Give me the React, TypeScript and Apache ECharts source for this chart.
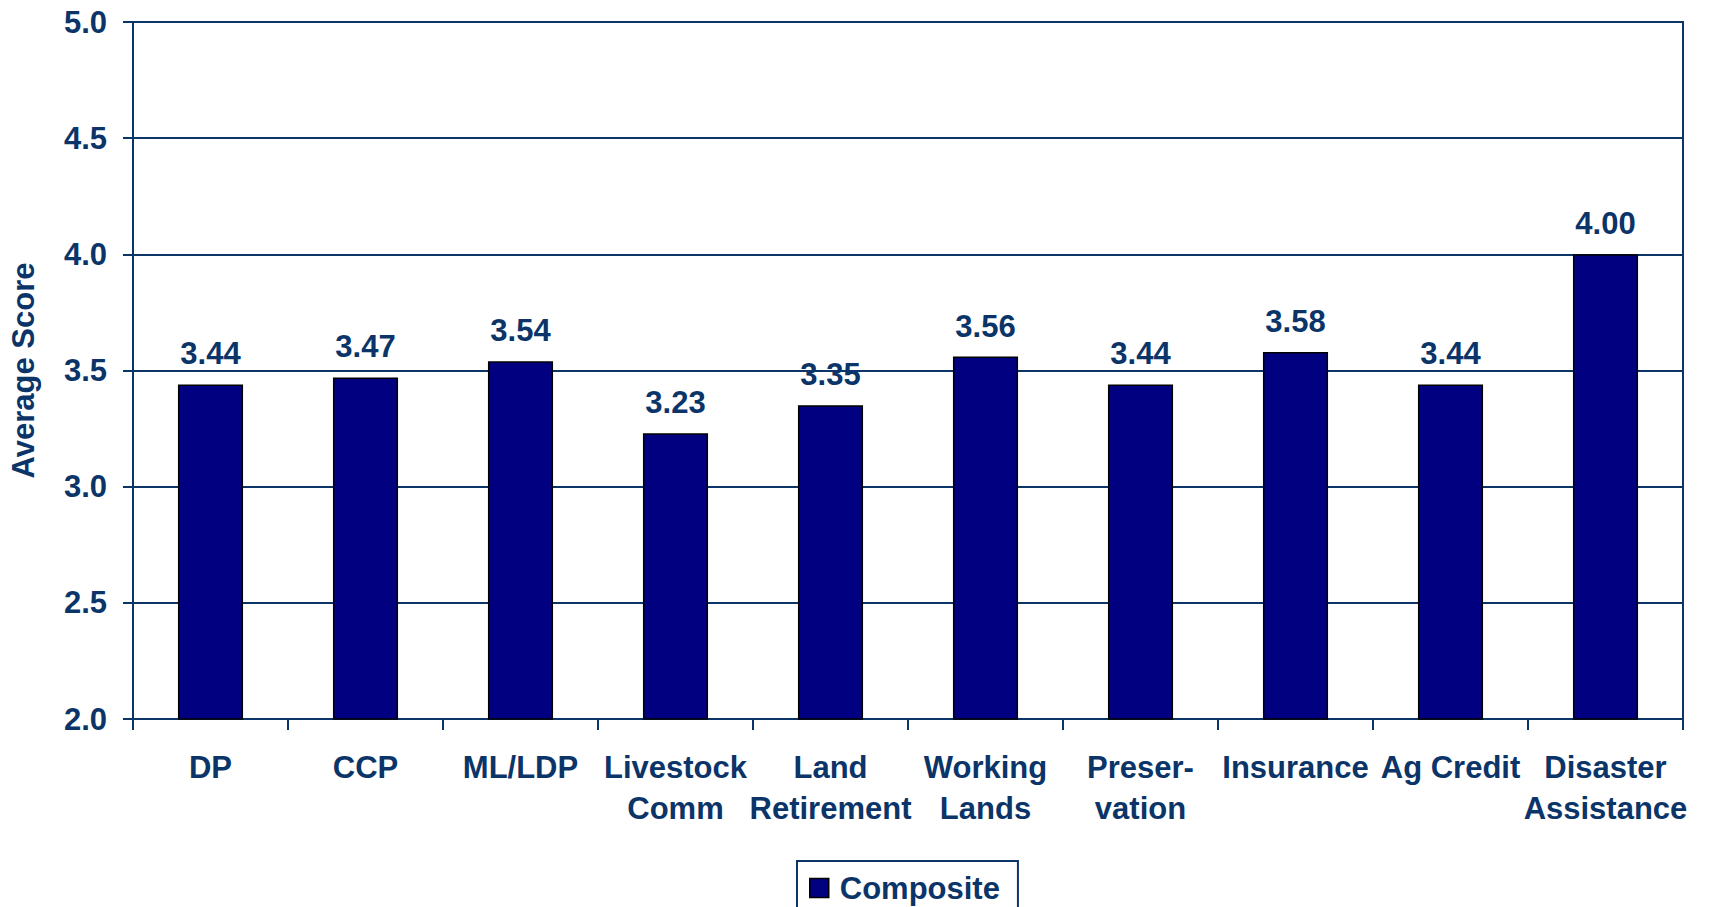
import React, { useEffect, useRef } from "react";
import * as echarts from "echarts";

const categories = [
  "DP",
  "CCP",
  "ML/LDP",
  "Livestock\nComm",
  "Land\nRetirement",
  "Working\nLands",
  "Preser-\nvation",
  "Insurance",
  "Ag Credit",
  "Disaster\nAssistance",
];
const compositeValues = [3.44, 3.47, 3.54, 3.23, 3.35, 3.56, 3.44, 3.58, 3.44, 4.0];
const seriesName = "Composite";
const yAxisTitle = "Average Score";

const TEXT = "#0b3468";
const LINE = "#0b3468";
const FONT = "'Liberation Sans', Arial, sans-serif";
const FS = 31;

export default function App() {
  const ref = useRef<HTMLDivElement>(null);
  useEffect(() => {
    if (!ref.current) return;
    const chart = echarts.init(ref.current, null, { renderer: "svg" });
    chart.setOption({
      animation: false,
      backgroundColor: "#ffffff",
      textStyle: { fontFamily: FONT },
      grid: {
        left: 133,
        top: 22,
        right: 27,
        bottom: 188,
        show: true,
        borderColor: LINE,
        borderWidth: 2,
        containLabel: false,
        outerBoundsMode: "none",
      },
      legend: {
        show: true,
        data: [seriesName],
        left: 797,
        top: 861,
        padding: [10, 18, 30, 12],
        borderColor: LINE,
        borderWidth: 2,
        itemWidth: 19,
        itemHeight: 19,
        icon: "rect",
        itemStyle: { color: "#000080", borderColor: "#000000", borderWidth: 1.5 },
        textStyle: {
          color: TEXT,
          fontSize: FS,
          fontWeight: "bold",
          fontFamily: FONT,
          lineHeight: 34,
          padding: [0, 0, 0, 6],
        },
      },
      xAxis: {
        type: "category",
        data: categories,
        boundaryGap: true,
        axisLine: { show: true, lineStyle: { color: LINE, width: 2 } },
        axisTick: { show: true, length: 11, lineStyle: { color: LINE, width: 2 } },
        axisLabel: {
          interval: 0,
          hideOverlap: false,
          margin: 28,
          color: TEXT,
          fontSize: FS,
          fontWeight: "bold",
          fontFamily: FONT,
          lineHeight: 41,
        },
      },
      yAxis: {
        type: "value",
        min: 2,
        max: 5,
        interval: 0.5,
        name: yAxisTitle,
        nameLocation: "middle",
        nameGap: 94,
        nameRotate: 90,
        nameTextStyle: {
          color: TEXT,
          fontSize: FS,
          fontWeight: "bold",
          fontFamily: FONT,
        },
        axisLine: { show: true, lineStyle: { color: LINE, width: 2 } },
        axisTick: { show: true, length: 10, lineStyle: { color: LINE, width: 2 } },
        splitLine: { show: true, lineStyle: { color: LINE, width: 2 } },
        axisLabel: {
          margin: 26,
          color: TEXT,
          fontSize: FS,
          fontWeight: "bold",
          fontFamily: FONT,
          formatter: (v: number) => v.toFixed(1),
        },
      },
      series: [
        {
          name: seriesName,
          type: "bar",
          data: compositeValues,
          barWidth: "42%",
          itemStyle: { color: "#000080", borderColor: "#000000", borderWidth: 1.5 },
          label: {
            show: true,
            position: "top",
            distance: 15,
            color: TEXT,
            fontSize: FS,
            fontWeight: "bold",
            fontFamily: FONT,
            formatter: (p: any) => Number(p.value).toFixed(2),
          },
        },
      ],
    });
    return () => chart.dispose();
  }, []);
  return (
    <div
      ref={ref}
      style={{ position: "absolute", left: 0, top: 0, width: 1710, height: 907 }}
    />
  );
}
